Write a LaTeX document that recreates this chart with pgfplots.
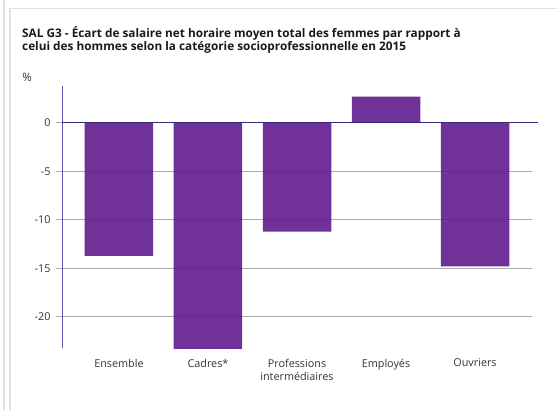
\documentclass[border=0pt]{standalone}
\usepackage{fontspec}
\setmainfont{Open Sans}
\usepackage{xcolor}
\definecolor{barpurple}{RGB}{96,28,142}
\definecolor{txt}{RGB}{51,51,51}
\definecolor{gridgray}{RGB}{170,170,170}
\definecolor{axisblue}{RGB}{88,88,176}
\definecolor{zeroline}{RGB}{52,44,120}
\definecolor{frame}{RGB}{224,224,224}
\usepackage{pgfplots}
\pgfplotsset{compat=1.18}

\begin{document}
\begin{tikzpicture}[x=1pt,y=1pt]
\path[use as bounding box] (0,0) rectangle (557,410);
% card frame
\fill[frame] (3,0) rectangle (5,410);
\fill[frame] (9,0) rectangle (10.5,402);
\fill[frame] (9,400.5) rectangle (557,402);
% title
\node[anchor=north west, align=left, font=\fontsize{11.8}{13.5}\selectfont\bfseries, text=black!90, inner sep=0pt]
  at (22,384) {SAL G3 - Écart de salaire net horaire moyen total des femmes par rapport à\\
  celui des hommes selon la catégorie socioprofessionnelle en 2015};
\node[font=\fontsize{11.5}{13}\selectfont, text=txt, inner sep=0pt] at (27,333) {\%};
\begin{axis}[
  at={(62pt,62pt)}, anchor=south west,
  scale only axis, width=470pt, height=262pt,
  xmin=-0.64, xmax=4.64, ymin=-23.2, ymax=3.8,
  clip=false,
  axis x line*=bottom, axis y line*=left,
  x axis line style={draw=none},
  y axis line style={draw=axisblue, line width=1pt, -},
  xtick={0,1,2,3,4},
  xticklabels={Ensemble,Cadres*,Professions\\intermédiaires,Employés,Ouvriers},
  x tick label style={align=center, font=\fontsize{10.8}{13.5}\selectfont, text=txt, yshift=-1.5pt},
  ytick={-20,-15,-10,-5,0},
  yticklabels={-20,-15,-10,-5,0},
  y tick label style={font=\fontsize{10.8}{12}\selectfont, text=txt, xshift=-2pt},
  ymajorgrids=true,
  grid style={draw=gridgray, line width=0.9pt},
  x tick style={draw=none},
  y tick style={draw=gridgray, line width=0.9pt},
  tick align=outside,
  major tick length=6pt,
]
\addplot[ybar, bar width=68.5pt, bar shift=0pt, fill=barpurple, fill opacity=0.9, draw=none]
  coordinates {(0,-13.7) (1,-23.3) (2,-11.2) (3,2.7) (4,-14.8)};
\draw[zeroline, line width=1.2pt] (axis cs:-0.64,0) -- (axis cs:4.704,0);
\end{axis}
\end{tikzpicture}
\end{document}
